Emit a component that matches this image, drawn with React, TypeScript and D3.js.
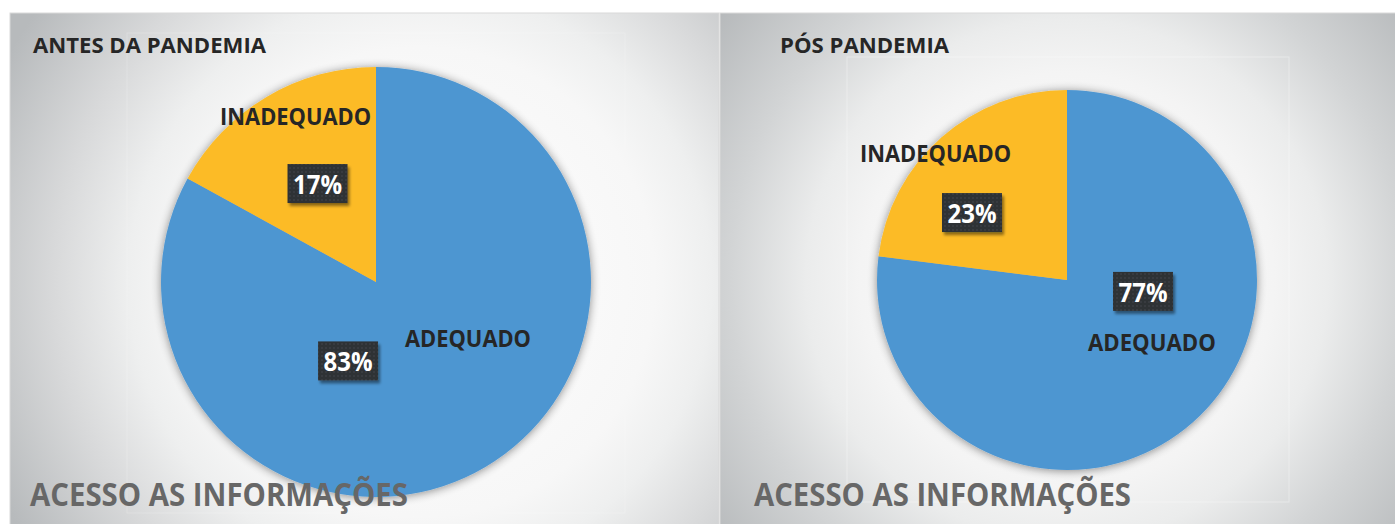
import React from "react";
import * as d3 from "d3";

// chart data
const categories = ["ADEQUADO", "INADEQUADO"];
const antesValues = [83, 17];
const posValues = [77, 23];
const panelTitles = ["ANTES DA PANDEMIA", "PÓS PANDEMIA"];
const footerTitle = "ACESSO AS INFORMAÇÕES";

const colors = d3.scaleOrdinal<string, string>().domain(categories).range(["#4e96d1", "#fcbb27"]);

const width = 1395;
const height = 524;
const font = "'Open Sans', 'Noto Sans', sans-serif";

// panel layout (positions only, values come from the arrays above)
const panels = [
  {
    values: antesValues,
    x: 10, w: 709, cx: 376, cy: 282, r: 215,
    plot: { x: 127, y: 33, w: 498, h: 480 },
    grad: { cx: 420, r: 470, stops: [[0, "#ffffff"], [0.5, "#f7f7f7"], [0.62, "#eeefef"], [0.78, "#d8d9da"], [1, "#b7babc"]] },
    title: { x: 33, y: 53, len: 233 },
    footer: { x: 30, y: 506, len: 378 },
    // label offsets in units of radius: [category label (baseline), percent box centre]
    catPos: [[0.428, 0.302], [-0.374, -0.73]],
    pctPos: [[-0.13, 0.367], [-0.272, -0.458]],
    catLen: [126, 151],
  },
  {
    values: posValues,
    x: 720, w: 685, cx: 1067, cy: 280, r: 190,
    plot: { x: 847, y: 57, w: 442, h: 445 },
    grad: { cx: 1067, r: 450, stops: [[0, "#ffffff"], [0.46, "#f4f4f4"], [0.58, "#ebecec"], [0.75, "#d2d4d5"], [1, "#b3b6b8"]] },
    title: { x: 780, y: 53, len: 169 },
    footer: { x: 754, y: 506, len: 377 },
    catPos: [[0.447, 0.374], [-0.692, -0.621]],
    pctPos: [[0.4, 0.06], [-0.5, -0.355]],
    catLen: [128, 151],
  },
];

const pie = d3.pie<number>().sort(null).value((d) => d);
const pct = d3.format(".0%");

const App = () => {
  return (
    <svg
      width={width}
      height={height}
      style={{ position: "absolute", left: 0, top: 0, background: "#ffffff" }}
    >
      <defs>
        <filter id="pieShadow" x="-20%" y="-20%" width="140%" height="140%">
          <feGaussianBlur in="SourceAlpha" stdDeviation="5" />
          <feOffset dx="0" dy="1" result="blur" />
          <feComponentTransfer>
            <feFuncA type="linear" slope="0.45" />
          </feComponentTransfer>
          <feMerge>
            <feMergeNode />
            <feMergeNode in="SourceGraphic" />
          </feMerge>
        </filter>
        <filter id="boxShadow" x="-20%" y="-20%" width="150%" height="160%">
          <feGaussianBlur in="SourceAlpha" stdDeviation="1.5" />
          <feOffset dx="2" dy="3" />
          <feComponentTransfer>
            <feFuncA type="linear" slope="0.45" />
          </feComponentTransfer>
          <feMerge>
            <feMergeNode />
            <feMergeNode in="SourceGraphic" />
          </feMerge>
        </filter>
        <pattern id="dots" width="4" height="4" patternUnits="userSpaceOnUse">
          <rect width="4" height="4" fill="#2f3235" />
          <circle cx="2" cy="2" r="0.7" fill="#474b4f" />
        </pattern>
        {panels.map((p, i) => (
          <radialGradient
            key={i}
            id={`bg${i}`}
            gradientUnits="userSpaceOnUse"
            cx={p.grad.cx}
            cy={p.cy}
            r={p.grad.r}
          >
            {p.grad.stops.map(([o, c], j) => (
              <stop key={j} offset={o as number} stopColor={c as string} />
            ))}
          </radialGradient>
        ))}
      </defs>

      {panels.map((p, i) => {
        const arcs = pie(p.values);
        const arc = d3.arc<d3.PieArcDatum<number>>().innerRadius(0).outerRadius(p.r);
        const total = d3.sum(p.values);
        return (
          <g key={i}>
            <rect x={p.x} y={13} width={p.w} height={height} fill={`url(#bg${i})`} stroke="#d9d9d9" strokeWidth={1} />
            <rect
              x={p.plot.x}
              y={p.plot.y}
              width={p.plot.w}
              height={p.plot.h}
              fill="none"
              stroke="#ffffff"
              strokeOpacity={i === 0 ? 0.2 : 0.35}
              strokeWidth={1}
            />
            <text
              x={p.title.x}
              y={p.title.y}
              fontFamily={font}
              fontWeight={700}
              fontSize={20.5}
              fill="#262626"
              textLength={p.title.len}
              lengthAdjust="spacingAndGlyphs"
            >
              {panelTitles[i]}
            </text>

            <g transform={`translate(${p.cx},${p.cy})`}>
              <g filter="url(#pieShadow)">
                {arcs.map((a, j) => (
                  <path key={j} d={arc(a) || ""} fill={colors(categories[j])} />
                ))}
              </g>

              {arcs.map((a, j) => {
                const [lx, ly] = p.catPos[j];
                return (
                  <text
                    key={`c${j}`}
                    x={lx * p.r}
                    y={ly * p.r}
                    textAnchor="middle"
                    fontFamily={font}
                    fontWeight={700}
                    fontSize={23.5}
                    fill="#262626"
                    textLength={p.catLen[j]}
                    lengthAdjust="spacingAndGlyphs"
                  >
                    {categories[j]}
                  </text>
                );
              })}

              {arcs.map((a, j) => {
                const [bx, by] = p.pctPos[j];
                const x = bx * p.r;
                const y = by * p.r;
                return (
                  <g key={`p${j}`}>
                    <rect
                      x={x - 30}
                      y={y - 19.5}
                      width={60}
                      height={39}
                      fill="url(#dots)"
                      filter="url(#boxShadow)"
                    />
                    <text
                      x={x}
                      y={y + 10.5}
                      textAnchor="middle"
                      fontFamily={font}
                      fontWeight={700}
                      fontSize={26.5}
                      fill="#ffffff"
                      textLength={49}
                      lengthAdjust="spacingAndGlyphs"
                    >
                      {pct(a.data / total)}
                    </text>
                  </g>
                );
              })}
            </g>

            <text
              x={p.footer.x}
              y={p.footer.y}
              fontFamily={font}
              fontWeight={700}
              fontSize={33}
              fill="#676767"
              textLength={p.footer.len}
              lengthAdjust="spacingAndGlyphs"
            >
              {footerTitle}
            </text>
          </g>
        );
      })}
    </svg>
  );
};

export default App;
